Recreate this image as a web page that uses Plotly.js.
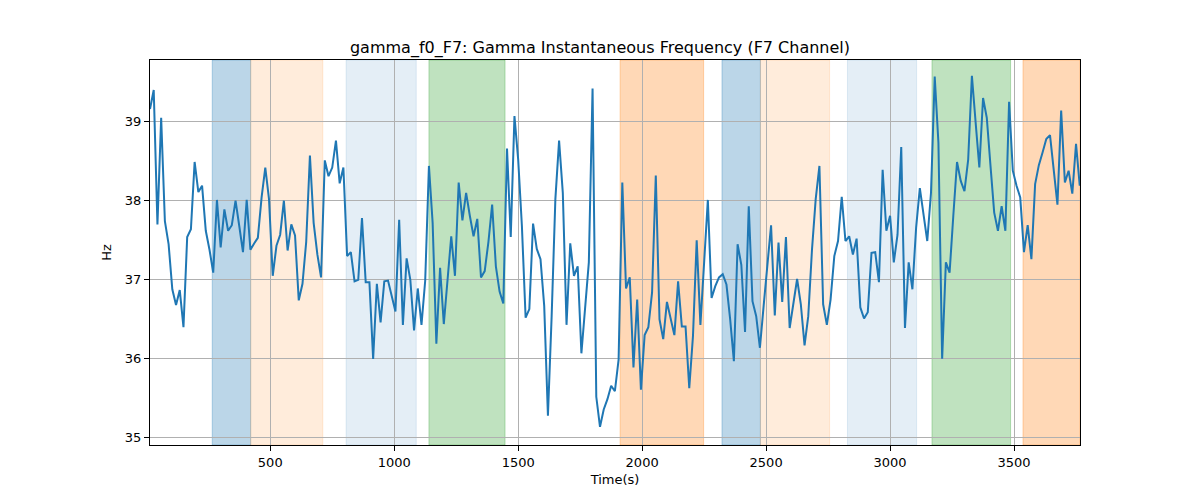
<!DOCTYPE html>
<html>
<head>
<meta charset="utf-8">
<script src="https://cdn.plot.ly/plotly-3.0.1.min.js"></script>
<style>
  html, body { margin: 0; padding: 0; background: #fff; }
  #chart { width: 1200px; height: 500px; }
</style>
</head>
<body>
<div id="chart"></div>
<script>
// time axis (s), one sample every 15 s
var timeS = [15,30,45,60,75,90,105,120,135,150,165,180,195,210,225,240,255,270,285,300,
  315,330,345,360,375,390,405,420,435,450,465,480,495,510,525,540,555,570,585,600,
  615,630,645,660,675,690,705,720,735,750,765,780,795,810,825,840,855,870,885,900,
  915,930,945,960,975,990,1005,1020,1035,1050,1065,1080,1095,1110,1125,1140,1155,1170,1185,1200,
  1215,1230,1245,1260,1275,1290,1305,1320,1335,1350,1365,1380,1395,1410,1425,1440,1455,1470,1485,1500,
  1515,1530,1545,1560,1575,1590,1605,1620,1635,1650,1665,1680,1695,1710,1725,1740,1755,1770,1785,1800,
  1815,1830,1845,1860,1875,1890,1905,1920,1935,1950,1965,1980,1995,2010,2025,2040,2055,2070,2085,2100,
  2115,2130,2145,2160,2175,2190,2205,2220,2235,2250,2265,2280,2295,2310,2325,2340,2355,2370,2385,2400,
  2415,2430,2445,2460,2475,2490,2505,2520,2535,2550,2565,2580,2595,2610,2625,2640,2655,2670,2685,2700,
  2715,2730,2745,2760,2775,2790,2805,2820,2835,2850,2865,2880,2895,2910,2925,2940,2955,2970,2985,3000,
  3015,3030,3045,3060,3075,3090,3105,3120,3135,3150,3165,3180,3195,3210,3225,3240,3255,3270,3285,3300,
  3315,3330,3345,3360,3375,3390,3405,3420,3435,3450,3465,3480,3495,3510,3525,3540,3555,3570,3585,3600,
  3615,3630,3645,3660,3675,3690,3705,3720,3735,3750,3765];

// gamma instantaneous frequency (Hz)
var freqHz = [39.16,39.40,37.70,39.05,37.74,37.45,36.88,36.68,36.87,36.40,
  37.54,37.64,38.49,38.11,38.19,37.62,37.38,37.09,38.01,37.41,
  37.89,37.62,37.69,38.00,37.68,37.35,38.01,37.38,37.46,37.53,
  38.04,38.42,38.02,37.05,37.43,37.57,38.00,37.37,37.70,37.56,
  36.74,36.95,37.48,38.57,37.72,37.32,37.03,38.51,38.31,38.42,
  38.76,38.22,38.42,37.30,37.35,36.98,37.00,37.78,36.97,36.97,
  36.00,36.95,36.46,36.98,36.99,36.80,36.60,37.76,36.43,37.27,
  37.00,36.36,36.89,36.43,36.99,38.44,37.72,36.19,37.15,36.44,
  36.98,37.55,37.05,38.23,37.75,38.10,37.81,37.55,37.77,37.03,
  37.11,37.48,37.95,37.17,36.85,36.70,38.66,37.54,39.07,38.52,
  37.68,36.52,36.63,37.71,37.39,37.26,36.67,35.28,36.54,38.02,
  38.76,38.10,36.43,37.46,37.05,37.17,36.07,36.62,37.22,39.42,
  35.52,35.14,35.36,35.49,35.66,35.59,35.99,38.23,36.89,37.03,
  35.89,36.75,35.61,36.30,36.40,36.84,38.32,36.50,36.25,36.72,
  36.52,36.30,36.98,36.41,36.41,35.63,36.29,37.50,36.43,37.26,
  38.01,36.77,36.92,37.03,37.07,36.94,36.50,35.97,37.45,37.19,
  36.34,37.93,36.73,36.54,36.14,36.67,37.17,37.69,36.55,37.47,
  36.72,37.54,36.39,36.71,37.01,36.69,36.17,36.54,37.38,38.02,
  38.44,36.69,36.43,36.75,37.30,37.49,38.05,37.49,37.55,37.32,
  37.52,36.65,36.51,36.59,37.34,37.35,36.97,38.39,37.62,37.81,
  37.22,37.57,38.68,36.39,37.22,36.88,37.66,38.16,37.81,37.49,
  38.10,39.57,38.73,36.00,37.22,37.09,37.81,38.49,38.25,38.12,
  38.52,39.58,38.99,38.42,39.30,39.05,38.44,37.85,37.62,37.93,
  37.62,39.25,38.38,38.19,38.04,37.35,37.69,37.26,38.21,38.45,
  38.61,38.78,38.83,38.40,37.95,39.14,38.23,38.38,38.09,38.72,
  38.19];

// shaded segments: start, end, colour
var segStart = [266, 421, 806, 1140, 1911, 2322, 2477, 2828, 3169, 3536];
var segEnd   = [421, 712, 1089, 1447, 2248, 2477, 2756, 3107, 3486, 3766];
var segColor = [
  'rgba(31,119,180,0.3)', 'rgba(255,127,14,0.15)', 'rgba(31,119,180,0.12)',
  'rgba(44,160,44,0.3)', 'rgba(255,127,14,0.3)', 'rgba(31,119,180,0.3)',
  'rgba(255,127,14,0.15)', 'rgba(31,119,180,0.12)', 'rgba(44,160,44,0.3)',
  'rgba(255,127,14,0.3)'
];

var shapes = segStart.map(function (s, i) {
  return {
    type: 'rect', xref: 'x', yref: 'paper',
    x0: s, x1: segEnd[i], y0: 0, y1: 1,
    fillcolor: segColor[i],
    line: {width: 1, color: segColor[i]},
    layer: 'between'
  };
});

var trace = {
  x: timeS,
  y: freqHz,
  type: 'scatter',
  mode: 'lines',
  line: {color: '#1f77b4', width: 2},
  hoverinfo: 'none'
};

var axisCommon = {
  showline: true, linecolor: '#000', linewidth: 1, mirror: true,
  ticks: 'outside', ticklen: 5, tickwidth: 1, tickcolor: '#000',
  showgrid: true, gridcolor: '#b0b0b0', gridwidth: 1,
  zeroline: false,
  tickfont: {family: 'DejaVu Sans', size: 13, color: '#000'}
};

var layout = {
  width: 1200, height: 500,
  paper_bgcolor: '#fff', plot_bgcolor: '#fff',
  margin: {l: 150, r: 120, t: 60, b: 55},
  showlegend: false,
  font: {family: 'DejaVu Sans', color: '#000'},
  title: {
    text: 'gamma_f0_F7: Gamma Instantaneous Frequency (F7 Channel)',
    font: {family: 'DejaVu Sans', size: 16, color: '#000'},
    x: 0.5, xanchor: 'center', y: 0.905, yanchor: 'middle'
  },
  xaxis: Object.assign({}, axisCommon, {
    range: [15, 3766],
    tickvals: [500, 1000, 1500, 2000, 2500, 3000, 3500],
    title: {text: 'Time(s)', font: {family: 'DejaVu Sans', size: 13, color: '#000'}, standoff: 6}
  }),
  yaxis: Object.assign({}, axisCommon, {
    range: [34.91, 39.78],
    tickvals: [35, 36, 37, 38, 39],
    title: {text: 'Hz', font: {family: 'DejaVu Sans', size: 13, color: '#000'}, standoff: 10}
  }),
  shapes: shapes
};

var config = {displayModeBar: false, staticPlot: true};

Plotly.newPlot('chart', [trace], layout, config);
</script>
</body>
</html>
